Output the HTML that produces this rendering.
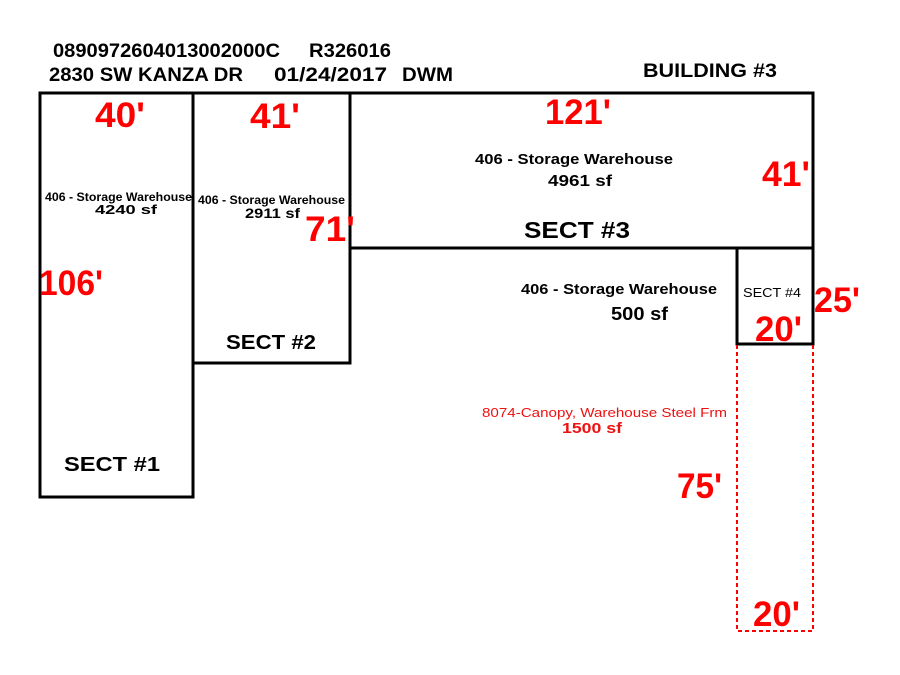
<!DOCTYPE html>
<html><head><meta charset="utf-8"><style>
html,body{margin:0;padding:0;background:#fff}
svg{display:block}
text{font-family:"Liberation Sans",Arial,sans-serif;font-weight:bold}
.r{fill:#f00;font-size:35px}
</style></head><body>
<svg width="900" height="675" viewBox="0 0 900 675" xmlns="http://www.w3.org/2000/svg">
<g font-size="19" fill="#000">
<text x="53" y="57" textLength="227" lengthAdjust="spacingAndGlyphs">0890972604013002000C</text>
<text x="309" y="57" textLength="82" lengthAdjust="spacingAndGlyphs">R326016</text>
<text x="49" y="81" textLength="194" lengthAdjust="spacingAndGlyphs">2830 SW KANZA DR</text>
<text x="274" y="81" textLength="113" lengthAdjust="spacingAndGlyphs">01/24/2017</text>
<text x="402" y="81" textLength="51" lengthAdjust="spacingAndGlyphs">DWM</text>
<text x="643" y="77" textLength="134" lengthAdjust="spacingAndGlyphs">BUILDING #3</text>
</g>
<g fill="none" stroke="#000" stroke-width="3">
<rect x="40" y="93" width="153" height="404"/>
<rect x="193" y="93" width="157" height="270"/>
<rect x="350" y="93" width="463" height="155"/>
<rect x="737" y="248" width="76" height="96"/>
</g>
<g fill="none" stroke="#f00" stroke-width="2" stroke-dasharray="4,3">
<path d="M737 345 V631 H813 V345"/>
</g>
<text class="r" x="95" y="127" textLength="50" lengthAdjust="spacingAndGlyphs">40'</text>
<text class="r" x="250" y="128" textLength="50" lengthAdjust="spacingAndGlyphs">41'</text>
<text class="r" x="545" y="124" textLength="66" lengthAdjust="spacingAndGlyphs">121'</text>
<text class="r" x="762" y="186" textLength="48" lengthAdjust="spacingAndGlyphs">41'</text>
<text class="r" x="305" y="241" textLength="50" lengthAdjust="spacingAndGlyphs">71'</text>
<text class="r" x="39" y="295" textLength="64" lengthAdjust="spacingAndGlyphs">106'</text>
<text class="r" x="814" y="312" textLength="46" lengthAdjust="spacingAndGlyphs">25'</text>
<text class="r" x="755" y="341" textLength="47" lengthAdjust="spacingAndGlyphs">20'</text>
<text class="r" x="677" y="498" textLength="45" lengthAdjust="spacingAndGlyphs">75'</text>
<text class="r" x="753" y="626" textLength="47" lengthAdjust="spacingAndGlyphs">20'</text>
<g fill="#000">
<text x="45" y="201" font-size="12" textLength="147" lengthAdjust="spacingAndGlyphs">406 - Storage Warehouse</text>
<text x="95" y="214" font-size="13" textLength="62" lengthAdjust="spacingAndGlyphs">4240 sf</text>
<text x="198" y="204" font-size="12" textLength="147" lengthAdjust="spacingAndGlyphs">406 - Storage Warehouse</text>
<text x="245" y="218" font-size="14" textLength="55" lengthAdjust="spacingAndGlyphs">2911 sf</text>
<text x="475" y="164" font-size="15" textLength="198" lengthAdjust="spacingAndGlyphs">406 - Storage Warehouse</text>
<text x="548" y="186" font-size="16" textLength="64" lengthAdjust="spacingAndGlyphs">4961 sf</text>
<text x="524" y="238" font-size="23" textLength="106" lengthAdjust="spacingAndGlyphs">SECT #3</text>
<text x="521" y="294" font-size="15" textLength="196" lengthAdjust="spacingAndGlyphs">406 - Storage Warehouse</text>
<text x="611" y="320" font-size="18" textLength="57" lengthAdjust="spacingAndGlyphs">500 sf</text>
<text x="743" y="297" font-size="13" style="font-weight:normal" textLength="58" lengthAdjust="spacingAndGlyphs">SECT #4</text>
<text x="226" y="349" font-size="20" textLength="90" lengthAdjust="spacingAndGlyphs">SECT #2</text>
<text x="64" y="471" font-size="20" textLength="96" lengthAdjust="spacingAndGlyphs">SECT #1</text>
</g>
<text x="482" y="417" font-size="13" fill="#e11" style="font-weight:normal" textLength="245" lengthAdjust="spacingAndGlyphs">8074-Canopy, Warehouse Steel Frm</text>
<text x="562" y="433" font-size="15" fill="#e11" textLength="60" lengthAdjust="spacingAndGlyphs">1500 sf</text>
</svg>
</body></html>
